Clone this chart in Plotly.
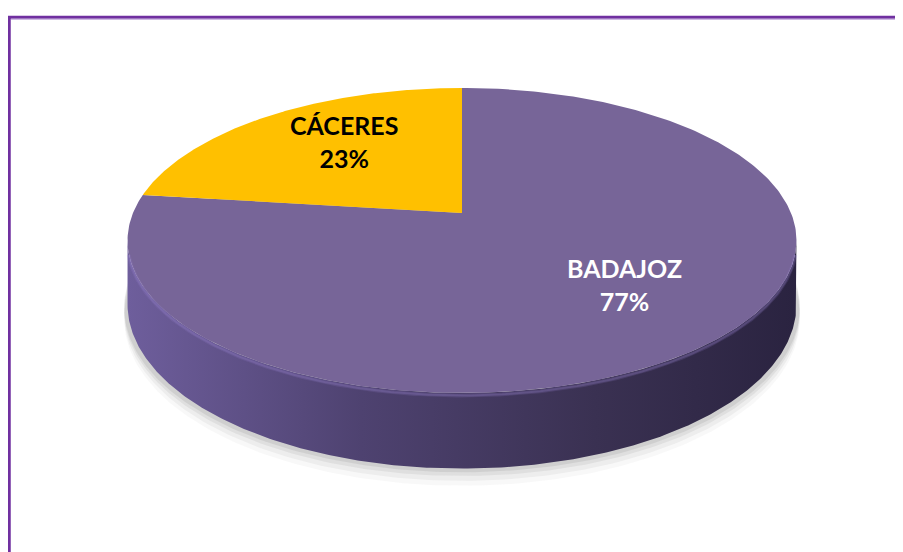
import numpy as np
import plotly.graph_objects as go

# ---- data ----
categories = ["BADAJOZ", "CÁCERES"]
values = [77, 23]
colors_top = ["#776598", "#FFC000"]
label_colors = ["white", "black"]

# ---- geometry (layout only) ----
W, H = 903, 552
OFF = 8                # page body margin compensation
CX, CY = 462, 213      # projected pie centre
A, B = 329, 147.6      # radii of projected circle
K = 0.18               # perspective factor
DROP = 62              # thickness of the pie
LABEL_R = 0.64

def proj(t, r=1.0, drop=0.0):
    w = 1 + K * r * np.sin(t)
    x = CX + A * r * np.cos(t) / w
    y = CY - B * r * np.sin(t) / w + drop / w
    return x, y

fig = go.Figure()

total = sum(values)
starts, ends = [], []
t0 = np.pi / 2
for v in values:
    t1 = t0 - 2 * np.pi * v / total
    starts.append(t0)
    ends.append(t1)
    t0 = t1

# shadow under pie
tt = np.linspace(0, 2 * np.pi, 400)
for extra, op in [(14, 0.05), (10, 0.08), (6, 0.12), (3, 0.15)]:
    x, y = proj(tt, drop=DROP + extra)
    x = CX + (x - CX) * 1.01
    fig.add_trace(go.Scatter(x=x, y=y, fill="toself", mode="lines",
                             line=dict(width=0), fillcolor=f"rgba(120,120,120,{op})",
                             hoverinfo="skip", showlegend=False))

# side wall (front half)
tl = np.pi + np.arcsin(K) - 2 * np.pi
tr = -np.arcsin(K)
for i, (s, e) in enumerate(zip(starts, ends)):
    hi, lo = min(s, tr), max(e, tl)
    if hi <= lo:
        continue
    ts = np.linspace(lo, hi, 300)
    xt, yt = proj(ts)
    xb, yb = proj(ts[::-1], drop=DROP)
    fig.add_trace(go.Scatter(
        x=np.concatenate([xt, xb]), y=np.concatenate([yt, yb]),
        fill="toself", mode="lines", line=dict(width=0),
        fillgradient=dict(type="horizontal",
                          colorscale=[[0, "#6E5E9C"], [0.35, "#4E4270"],
                                      [0.7, "#3A3152"], [1, "#2A2340"]]),
        hoverinfo="skip", showlegend=False))

# top face slices
for i, (s, e) in enumerate(zip(starts, ends)):
    ts = np.linspace(s, e, 300)
    x, y = proj(ts)
    x = np.concatenate([[CX], x, [CX]])
    y = np.concatenate([[CY], y, [CY]])
    fig.add_trace(go.Scatter(x=x, y=y, fill="toself", mode="lines",
                             line=dict(width=0), fillcolor=colors_top[i],
                             hoverinfo="skip", showlegend=False,
                             name=categories[i]))

# soft rim highlight on front edge
ts = np.linspace(tl + 0.08, tr - 0.08, 300)
for d, wdt, op in [(2, 4, 0.18), (2, 2, 0.25)]:
    xh, yh = proj(ts, drop=d)
    fig.add_trace(go.Scatter(x=xh, y=yh, mode="lines",
                             line=dict(width=wdt, color=f"rgba(150,130,205,{op})"),
                             hoverinfo="skip", showlegend=False))

# labels
for i, (s, e) in enumerate(zip(starts, ends)):
    tm = (s + e) / 2
    x, y = proj(tm, r=LABEL_R)
    pct = round(100 * values[i] / total)
    fig.add_annotation(x=x + 10, y=y - 6, xref="x", yref="y",
                       text=f"<b>{categories[i]}<br>{pct}%</b>",
                       showarrow=False,
                       font=dict(family="Lato, Roboto, sans-serif", size=25,
                                 color=label_colors[i]))

# chart border (cropped frame)
fig.add_shape(type="line", x0=9, x1=9, y0=16, y1=W, xref="x", yref="y",
              line=dict(color="#7030A0", width=3.5))
fig.add_shape(type="line", x0=7, x1=W + 20, y0=17.3, y1=17.3, xref="x", yref="y",
              line=dict(color="#7030A0", width=3))
fig.add_shape(type="line", x0=11, x1=W + 20, y0=19.2, y1=19.2, xref="x", yref="y",
              line=dict(color="#B99AD6", width=1))

fig.update_layout(
    width=W, height=H,
    margin=dict(l=0, r=0, t=0, b=0),
    paper_bgcolor="white", plot_bgcolor="white",
    xaxis=dict(range=[OFF, W + OFF], visible=False, fixedrange=True),
    yaxis=dict(range=[H + OFF, OFF], visible=False, fixedrange=True),
    showlegend=False,
)

fig.write_html("out.html")
